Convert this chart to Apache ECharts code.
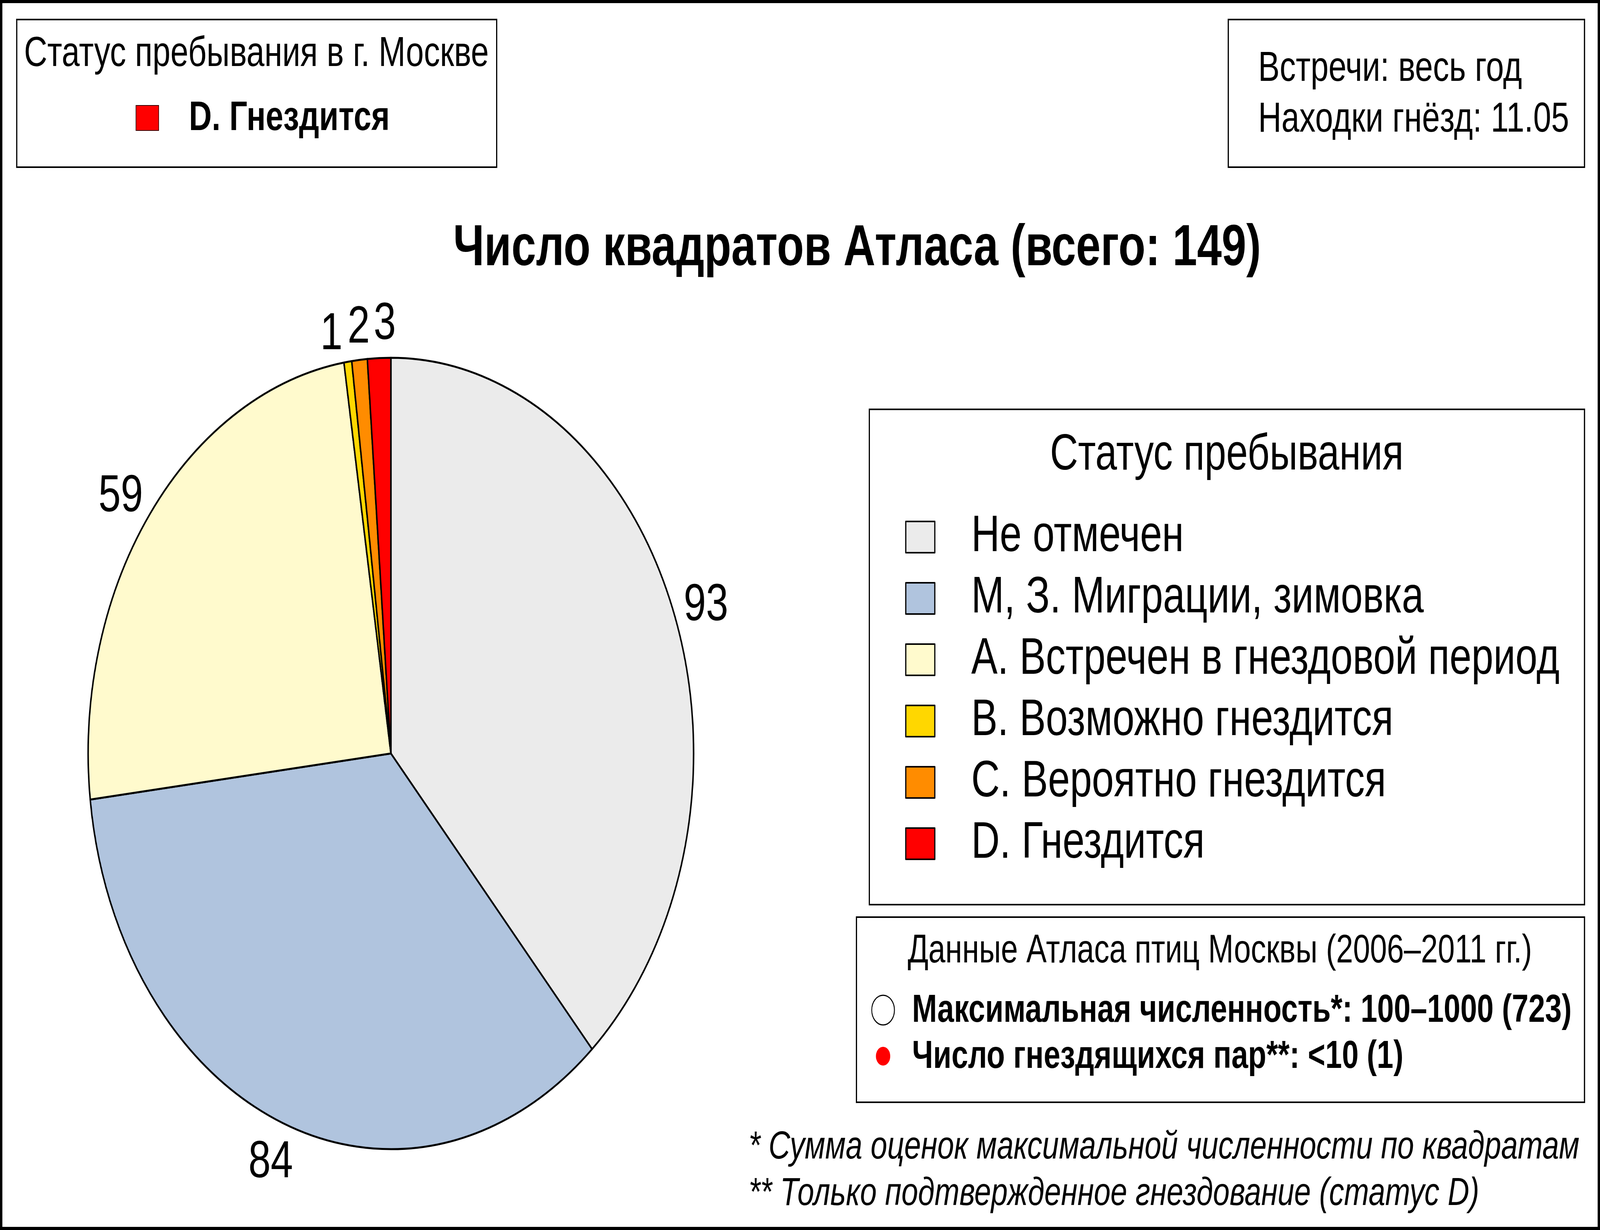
<!DOCTYPE html>
<html><head><meta charset="utf-8">
<script src="https://cdn.jsdelivr.net/npm/echarts@6/dist/echarts.min.js"></script>
<style>html,body{margin:0;padding:0;background:#fff;overflow:hidden}#c{width:5354px;height:3149px;transform-origin:0 0}</style>
</head><body><div id="c"></div>
<script>
const statusNames = ['Не отмечен', 'М, З. Миграции, зимовка', 'А. Встречен в гнездовой период', 'В. Возможно гнездится', 'С. Вероятно гнездится', 'D. Гнездится'];
const squareCounts = [93, 84, 59, 1, 2, 3];
const statusColors = ['#EBEBEB', '#B0C4DE', '#FFFACD', '#FFD700', '#FF8C00', '#FF0000'];
const labelNudge = [[10, 19], [-5, 4], [-14, 18], [-40, 34], [8, 22], [23, 18]];

const mainTitle = 'Число квадратов Атласа (всего: 149)';
const cityStatusTitle = 'Статус пребывания в г. Москве';
const cityStatus = 'D. Гнездится';
const infoLines = ['Встречи: весь год', 'Находки гнёзд: 11.05'];
const legendTitle = 'Статус пребывания';
const atlasTitle = 'Данные Атласа птиц Москвы (2006–2011 гг.)';
const atlasLines = ['Максимальная численность*: 100–1000 (723)', 'Число гнездящихся пар**: <10 (1)'];
const footnotes = ['* Сумма оценок максимальной численности по квадратам', '** Только подтвержденное гнездование (статус D)'];

const W = 5354, H = 3149;
const el = document.getElementById('c');
// the page may be given a narrower viewport than the design size: fit the whole chart into it
const sx = Math.min(1, (window.innerWidth || W) / W), sy = Math.min(1, (window.innerHeight || H) / H);
if (sx < 1 || sy < 1) el.style.transform = 'scale(' + sx + ',' + sy + ')';

const FF = '"Liberation Sans", Arial, sans-serif';
const chart = echarts.init(el, null, {renderer: 'canvas', width: W, height: H});

function txt(text, x, y, size, opts) {
  opts = opts || {};
  const font = (opts.italic ? 'italic ' : '') + (opts.bold ? 'bold ' : '') + size + 'px ' + FF;
  return {
    type: 'text', silent: true,
    style: {
      text: text, x: x, y: y, font: font, fill: '#000',
      textAlign: opts.align || 'left', align: opts.align || 'left',
      textVerticalAlign: 'middle', verticalAlign: 'middle'
    }
  };
}
function box(x, y, w, h, lw) {
  return {type: 'rect', silent: true, shape: {x: x, y: y, width: w, height: h},
    style: {fill: 'none', stroke: '#000', lineWidth: lw}};
}

const graphics = [
  box(4, 4, 5346, 3141, 8),
  box(56, 50, 1606, 378, 4),
  box(4110, 50, 1192, 378, 4),
  box(2909, 1048, 2393, 1268, 4),
  box(2866, 2348, 2436, 474, 4),
  txt(cityStatusTitle, 858, 139, 108, {align: 'center'}),
  {type: 'rect', silent: true, shape: {x: 455, y: 270, width: 76, height: 64},
    style: {fill: statusColors[5], stroke: '#300', lineWidth: 2}},
  txt(cityStatus, 632, 304, 106, {bold: true}),
  txt(infoLines[0], 4210, 177, 108),
  txt(infoLines[1], 4210, 307, 108),
  txt(mainTitle, 2868, 638, 148, {bold: true, align: 'center'}),
  txt(legendTitle, 4105, 1166, 130, {align: 'center'}),
  txt(atlasTitle, 4082, 2436, 102, {align: 'center'}),
  {type: 'circle', silent: true, shape: {cx: 2955, cy: 2586, r: 38},
    style: {fill: '#fff', stroke: '#000', lineWidth: 3}},
  {type: 'circle', silent: true, shape: {cx: 2955, cy: 2704, r: 24},
    style: {fill: '#FF0000', stroke: 'none'}},
  txt(atlasLines[0], 3052, 2588, 100, {bold: true}),
  txt(atlasLines[1], 3052, 2706, 100, {bold: true}),
  txt(footnotes[0], 2505, 2938, 100, {italic: true}),
  txt(footnotes[1], 2505, 3057, 100, {italic: true})
];

const pieCenter = [1308, 1929];
const pieR = 1013;

chart.setOption({
  animation: false,
  backgroundColor: '#fff',
  legend: {
    show: true,
    orient: 'vertical',
    left: 3029, top: 1309,
    padding: 0,
    itemWidth: 97, itemHeight: 80, itemGap: 25,
    icon: 'rect',
    selectedMode: false,
    data: statusNames,
    itemStyle: {borderColor: '#000', borderWidth: 4},
    textStyle: {fontSize: 132, fontFamily: FF, color: '#000', padding: [0, 0, 0, 117]}
  },
  series: [
    {
      type: 'pie', name: 'Статус', center: pieCenter, radius: pieR,
      startAngle: 90, clockwise: true, silent: true,
      emphasis: {disabled: true},
      label: {show: false}, labelLine: {show: false},
      itemStyle: {borderColor: '#000', borderWidth: 5},
      data: statusNames.map((n, i) => ({name: n, value: squareCounts[i], itemStyle: {color: statusColors[i]}}))
    },
    {
      type: 'pie', name: 'Подписи', center: pieCenter, radius: [pieR, pieR * 1.2],
      startAngle: 90, clockwise: true, silent: true,
      emphasis: {disabled: true},
      itemStyle: {color: 'rgba(0,0,0,0)', borderWidth: 0},
      labelLine: {show: false},
      label: {show: true, position: 'inside', formatter: '{c}', fontSize: 134, fontFamily: FF, color: '#000'},
      data: statusNames.map((n, i) => ({name: n, value: squareCounts[i], label: {offset: labelNudge[i]}}))
    }
  ],
  graphic: graphics
});
</script></body></html>
